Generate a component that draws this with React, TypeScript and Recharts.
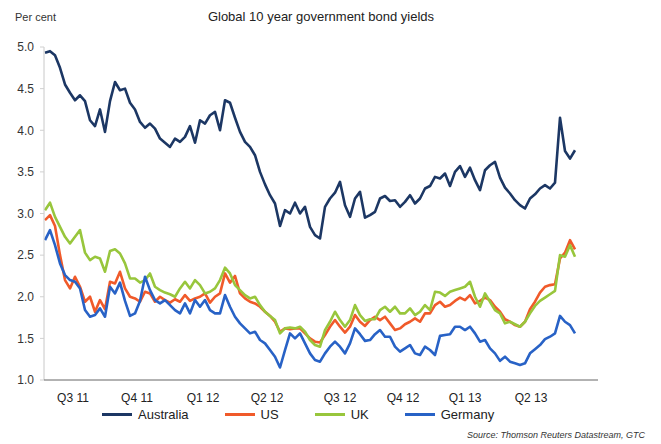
import React from "react";
import { LineChart, Line, XAxis, YAxis } from "recharts";

// weekly readings, early Jul 2011 to mid Jul 2013 (per cent)
const australia = [
  4.93, 4.95, 4.9, 4.75, 4.55, 4.45, 4.36, 4.42, 4.35, 4.12,
  4.05, 4.25, 3.98, 4.35, 4.58, 4.48, 4.5, 4.33, 4.25, 4.1,
  4.03, 4.08, 4.02, 3.9, 3.85, 3.8, 3.9, 3.86, 3.92, 4.05,
  3.85, 4.12, 4.08, 4.18, 4.22, 4.0, 4.36, 4.33, 4.15, 3.98,
  3.86, 3.8, 3.7, 3.5, 3.35, 3.22, 3.12, 2.85, 3.04, 3.0,
  3.13, 3.0, 3.08, 2.84, 2.74, 2.7, 3.08, 3.18, 3.25, 3.38,
  3.1, 2.96, 3.18, 3.26, 2.95, 2.98, 3.02, 3.18, 3.21, 3.15,
  3.16, 3.08, 3.14, 3.22, 3.12, 3.18, 3.3, 3.33, 3.44, 3.42,
  3.48, 3.33, 3.5, 3.57, 3.44, 3.55, 3.4, 3.28, 3.52, 3.58,
  3.62, 3.43, 3.31, 3.24, 3.16, 3.1, 3.06, 3.18, 3.23, 3.3,
  3.34, 3.3, 3.37, 4.15, 3.75, 3.66, 3.76,
];

const us = [
  2.92, 2.98, 2.85, 2.5, 2.2, 2.1, 2.24, 2.12, 1.94, 2.0,
  1.82, 1.96, 1.85, 2.18, 2.16, 2.3, 2.1, 2.0, 1.98, 1.94,
  2.06, 2.04, 1.94, 2.0, 1.96, 1.93, 1.97, 1.94, 2.02, 1.95,
  1.98, 2.0, 2.04, 1.93, 2.0, 2.04, 2.28, 2.17, 2.25, 2.04,
  1.98, 1.94, 1.92, 1.88, 1.82, 1.77, 1.7, 1.58, 1.62, 1.61,
  1.62, 1.62, 1.56, 1.5, 1.46, 1.45, 1.54, 1.64, 1.72, 1.64,
  1.57, 1.64, 1.78, 1.7, 1.65, 1.72, 1.76, 1.72, 1.76, 1.68,
  1.6, 1.62, 1.67, 1.7, 1.74, 1.7, 1.8, 1.8, 1.9, 1.94,
  1.88, 1.9, 1.95, 1.99, 1.96, 2.02, 1.92, 1.95, 1.99, 1.96,
  1.88, 1.82, 1.73, 1.7, 1.66, 1.64, 1.7, 1.85, 1.94, 2.05,
  2.12, 2.14, 2.15, 2.46, 2.53, 2.68, 2.57,
];

const uk = [
  3.04, 3.13, 2.96, 2.84, 2.72, 2.64, 2.72, 2.8, 2.53, 2.44,
  2.48, 2.46, 2.3, 2.55, 2.57, 2.52, 2.4, 2.22, 2.22, 2.17,
  2.2, 2.28, 2.12, 2.08, 2.05, 2.03, 2.0, 2.1, 2.18, 2.1,
  2.2, 2.14, 2.04, 2.06, 2.1, 2.2, 2.35, 2.28, 2.14, 2.08,
  2.02, 1.98, 2.0, 1.9, 1.82, 1.77, 1.72, 1.56, 1.62, 1.63,
  1.62, 1.64, 1.58, 1.48, 1.42, 1.4, 1.6, 1.7, 1.82, 1.72,
  1.64, 1.72, 1.9, 1.78, 1.71, 1.73, 1.73, 1.84, 1.88, 1.82,
  1.88, 1.8, 1.8, 1.86, 1.78, 1.82, 1.9, 1.84, 2.06, 2.05,
  2.01, 2.06, 2.08, 2.1, 2.12, 2.18, 2.0, 1.88, 2.04, 1.94,
  1.84, 1.8, 1.68, 1.7, 1.67, 1.64, 1.7, 1.8, 1.89, 1.95,
  1.99, 2.03, 2.07, 2.5, 2.48, 2.62, 2.48,
];

const germany = [
  2.68, 2.8, 2.62, 2.4, 2.26, 2.2, 2.18, 2.1, 1.84, 1.76,
  1.78, 1.86, 1.76, 2.12, 2.04, 2.17, 1.95, 1.77, 1.8, 1.95,
  2.24, 2.08, 1.96, 1.92, 1.96, 1.9, 1.84, 1.8, 1.92, 1.8,
  1.96, 1.88, 1.96, 1.84, 1.8, 1.8, 2.02, 1.88, 1.76, 1.68,
  1.62, 1.56, 1.58, 1.48, 1.44, 1.36, 1.28, 1.15, 1.36, 1.56,
  1.5, 1.56, 1.44, 1.32, 1.24, 1.22, 1.32, 1.4, 1.46, 1.4,
  1.32, 1.44, 1.62, 1.55, 1.47, 1.48, 1.55, 1.6, 1.52, 1.52,
  1.4, 1.34, 1.38, 1.42, 1.32, 1.3, 1.4, 1.36, 1.3, 1.53,
  1.54, 1.55, 1.64, 1.64, 1.6, 1.64, 1.56, 1.46, 1.48, 1.38,
  1.32, 1.23, 1.28, 1.22, 1.2, 1.18, 1.2, 1.32, 1.37, 1.42,
  1.49, 1.52, 1.56, 1.77, 1.7, 1.66, 1.56,
];

const quarterLabels = ["Q3 11", "Q4 11", "Q1 12", "Q2 12", "Q3 12", "Q4 12", "Q1 13", "Q2 13"];
const quarterTicks = [5.6, 18.4, 31.6, 44.4, 59, 71.6, 84, 97.2]; // in weeks
const yTicks = [1.0, 1.5, 2.0, 2.5, 3.0, 3.5, 4.0, 4.5, 5.0];

const series = [
  { key: "australia", name: "Australia", color: "#1c3764", values: australia },
  { key: "us", name: "US", color: "#f05a2a", values: us },
  { key: "uk", name: "UK", color: "#98c63c", values: uk },
  { key: "germany", name: "Germany", color: "#2862c6", values: germany },
];

const rows = australia.map((_, i) => {
  const row: Record<string, number> = { week: i };
  series.forEach((s) => (row[s.key] = s.values[i]));
  return row;
});

const font = "'Liberation Sans', Arial, sans-serif";

export default function App() {
  return (
    <div style={{ position: "absolute", left: 0, top: 0, width: 661, height: 444, background: "#fff", fontFamily: font }}>
      <div style={{ position: "absolute", left: 15, top: 11, fontSize: 11, color: "#333" }}>Per cent</div>
      <div style={{ position: "absolute", left: 0, width: 642, top: 9, textAlign: "center", fontSize: 13, color: "#222" }}>
        Global 10 year government bond yields
      </div>
      <LineChart width={661} height={444} data={rows} margin={{ top: 47, right: 63, bottom: 34, left: 0 }}>
        <YAxis
          type="number"
          domain={[1, 5]}
          ticks={yTicks}
          width={44}
          tickFormatter={(v: number) => v.toFixed(1)}
          tick={{ fontSize: 12, fill: "#333", fontFamily: font }}
          axisLine={{ stroke: "#c8c8c8" }}
          tickLine={{ stroke: "#d0d0d0" }}
          tickSize={4}
          tickMargin={6}
        />
        <XAxis
          dataKey="week"
          type="number"
          domain={[-0.2, 110.6]}
          ticks={quarterTicks}
          interval={0}
          tickFormatter={(v: number) => quarterLabels[quarterTicks.indexOf(v)] ?? ""}
          tick={{ fontSize: 12, fill: "#222", fontFamily: font }}
          axisLine={{ stroke: "#666" }}
          tickLine={false}
          tickSize={6}
          tickMargin={7}
          height={30}
        />
        {series.map((s) => (
          <Line
            key={s.key}
            dataKey={s.key}
            name={s.name}
            type="linear"
            stroke={s.color}
            strokeWidth={2.6}
            dot={false}
            strokeLinejoin="round"
            isAnimationActive={false}
          />
        ))}
      </LineChart>
      <div style={{ position: "absolute", left: 102, top: 407, display: "flex", gap: 36, fontSize: 13, color: "#222" }}>
        {series.map((s) => (
          <div key={s.key} style={{ display: "flex", alignItems: "center" }}>
            <span style={{ display: "inline-block", width: 30, height: 3, background: s.color, marginRight: 6 }} />
            <span>{s.name}</span>
          </div>
        ))}
      </div>
      <div style={{ position: "absolute", right: 16, top: 430, fontSize: 9, fontStyle: "italic", color: "#333" }}>
        Source: Thomson Reuters Datastream, GTC
      </div>
    </div>
  );
}
